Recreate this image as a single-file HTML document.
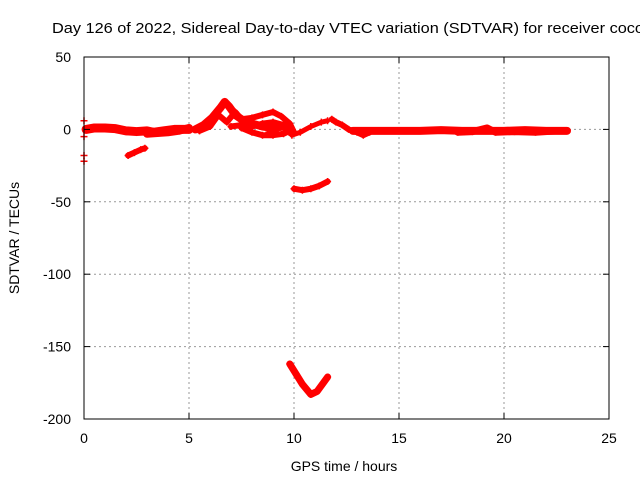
<!DOCTYPE html>
<html><head><meta charset="utf-8"><style>
body{margin:0;background:#fff;font-family:"Liberation Sans",sans-serif}
svg text{font-family:"Liberation Sans",sans-serif;font-size:14px;fill:#000}
</style></head><body>
<svg id="c" width="640" height="480">
<text x="52" y="33" textLength="592" lengthAdjust="spacingAndGlyphs" style="font-size:15px">Day 126 of 2022, Sidereal Day-to-day VTEC variation (SDTVAR) for receiver coco</text>
<g id="grid"></g><g id="data"></g>
<rect x="84" y="57" width="525" height="362" fill="none" stroke="#000"/>
<g id="axes"></g>
<text x="344" y="471" text-anchor="middle">GPS time / hours</text>
<text transform="translate(19,238) rotate(-90)" text-anchor="middle">SDTVAR / TECUs</text>
</svg>
<script>
const xTicks=[0,5,10,15,20,25];
const yTicks=[50,0,-50,-100,-150,-200];
const seriesBandLeft=[[0.1,0],[0.5,1],[1,1],[1.5,0.5],[2,-1],[2.5,-1.5],[3,-1],[3.3,-2],[3.8,-1],[4.3,0],[5,0]];
const seriesBandLeft2=[[3,-3],[3.5,-2.5],[4,-2],[4.5,-1],[5,1]];
const seriesArcA=[[2.1,-18],[2.4,-16],[2.7,-14],[2.9,-13]];
const seriesBumps=[[5.3,0],[5.7,3],[6.1,8],[6.5,15],[6.7,19],[6.9,16],[7.2,10],[7.6,6],[8,4],[8.5,2],[9,1],[9.5,2]];
const seriesBumps2=[[5.5,-1],[6,2],[6.4,10],[6.8,5],[7.2,12],[7.5,7],[8,8],[8.5,10],[9,12],[9.4,9],[9.8,4],[10,-2]];
const seriesLoop=[[7.5,1],[8,-2],[8.5,-4],[9,-4],[9.5,-3],[9.8,-1],[9.5,3],[9,5],[8.5,4],[8,2],[7.5,3],[7,2]];
const seriesLoop2=[[8.8,-2],[9.2,0],[9.5,3],[9.9,-4],[10.3,-2],[10.8,2],[11.3,5],[11.6,6]];
const seriesMid=[[11.8,7],[12,5],[12.3,3],[12.6,0],[13,-2],[13.3,-4],[13.6,-2]];
const seriesBandRight=[[12.8,-1],[14,-1],[15,-1],[16,-1],[17,-0.5],[18,-1],[19,-1],[20,-1],[21,-0.5],[22,-1],[23,-1]];
const seriesBandRight2=[[17.8,-2],[18.5,-1.5],[19.2,1],[19.6,-2],[20.5,-1.5],[21.5,-2],[22.5,-1]];
const seriesArcB=[[10,-41],[10.4,-42],[10.8,-41],[11.2,-39],[11.6,-36]];
const seriesV=[[9.8,-162],[10.1,-169],[10.4,-176],[10.8,-183],[11.1,-181],[11.4,-175],[11.6,-171]];
const seriesAxisMarks=[[0,6],[0,-5],[0,-18],[0,-22]];
const X=h=>84+21*h, Y=v=>129.4-1.448*v;
const NS="http://www.w3.org/2000/svg";
function mk(t,a,p){const e=document.createElementNS(NS,t);for(const k in a)e.setAttribute(k,a[k]);p.appendChild(e);return e;}
const G=document.getElementById('grid'),A=document.getElementById('axes'),D=document.getElementById('data');
xTicks.forEach(t=>{
 if(t>0&&t<25){const l=mk('line',{x1:X(t),x2:X(t),y1:57,y2:419,stroke:'#999','stroke-dasharray':'2,3'},G);
 
 }
 const tx=mk('text',{x:X(t),y:443,'text-anchor':'middle'},A);tx.textContent=t;
 
 
 mk('line',{x1:X(t),x2:X(t),y1:419,y2:413,stroke:'#000'},A);mk('line',{x1:X(t),x2:X(t),y1:57,y2:63,stroke:'#000'},A);
});
yTicks.forEach(t=>{
 if(t<50&&t>-200){const l=mk('line',{x1:84,x2:609,y1:Y(t),y2:Y(t),stroke:'#999','stroke-dasharray':'2,3'},G);
 
 }
 const tx=mk('text',{x:71,y:Y(t)+5,'text-anchor':'end'},A);tx.textContent=t;
 
 
 mk('line',{x1:84,x2:90,y1:Y(t),y2:Y(t),stroke:'#000'},A);mk('line',{x1:609,x2:603,y1:Y(t),y2:Y(t),stroke:'#000'},A);
});
function series(pts,name,w){
 const g=mk('g',{},D);
 
 
 if(w>0)mk('polyline',{points:pts.map(p=>X(p[0])+','+Y(p[1])).join(' '),fill:'none',stroke:'#f00','stroke-width':w,'stroke-linejoin':'round','stroke-linecap':'round'},g);
 pts.forEach(p=>{const x=X(p[0]),y=Y(p[1]);
  mk('path',{d:`M${x-3.5} ${y}H${x+3.5}M${x} ${y-3.5}V${y+3.5}`,stroke:'#f00','stroke-width':1.5},g);});
}
series(seriesBandLeft,'band-left',9);series(seriesBandLeft2,'band-left-2',8);
series(seriesArcA,'arc-a',6);series(seriesBumps,'bumps',8);series(seriesBumps2,'bumps-2',6);
series(seriesLoop,'loop',6);series(seriesLoop2,'loop-2',5);series(seriesMid,'mid',6);
series(seriesBandRight,'band-right',8);series(seriesBandRight2,'band-right-2',7);
series(seriesArcB,'arc-b',6);series(seriesV,'v-curve',7);series(seriesAxisMarks,'axis-marks',0);
</script>
</body></html>
